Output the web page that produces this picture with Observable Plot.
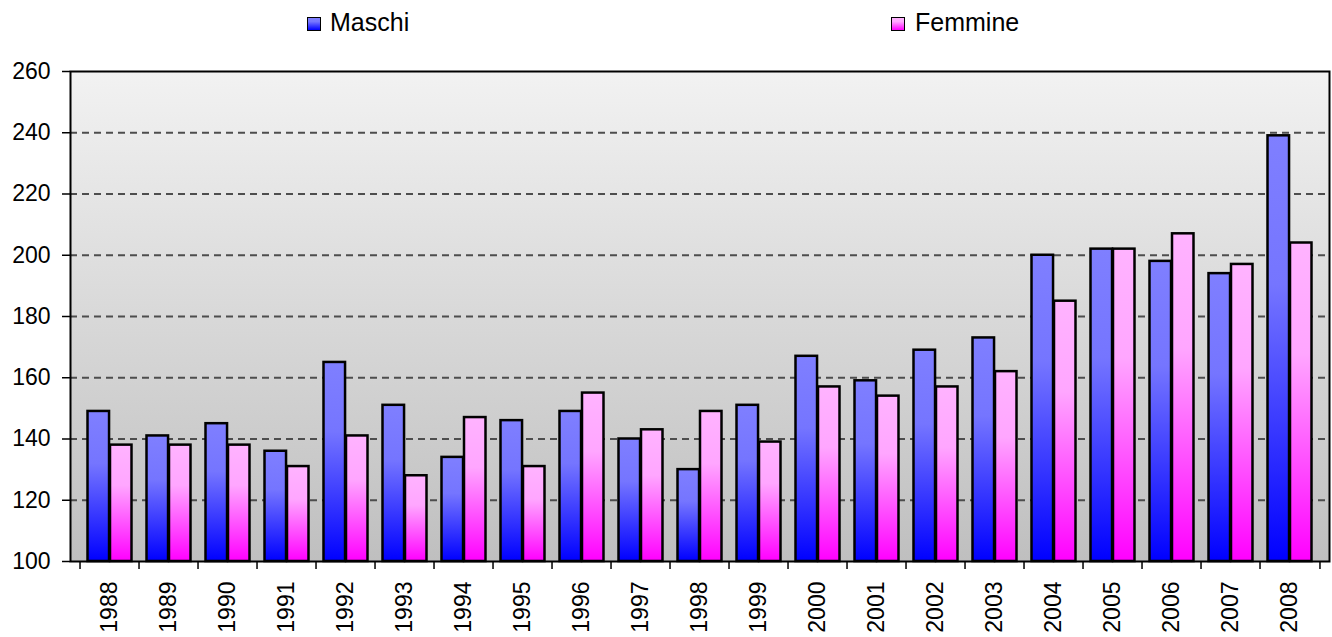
<!DOCTYPE html>
<html><head><meta charset="utf-8">
<script src="https://cdn.jsdelivr.net/npm/d3@7"></script>
<script src="https://cdn.jsdelivr.net/npm/@observablehq/plot@0.6"></script>
<style>
html,body{margin:0;padding:0;background:#fff;overflow:hidden;font-family:"Liberation Sans",Arial,sans-serif;}
#legend{position:relative;height:45px;width:1332px;font-size:25px;color:#000;}
.sw{position:absolute;top:17px;width:12px;height:12px;border:1px solid #000;}
.lt{position:absolute;top:10px;line-height:1;}
#chart svg{display:block;}
</style></head>
<body>
<div id="legend">
  <div class="sw" style="left:307px;background:linear-gradient(#7f7fff,#7777ff 30%,#0000ff);"></div>
  <div class="lt" style="left:330px;">Maschi</div>
  <div class="sw" style="left:891px;background:linear-gradient(#ffb3ff,#ffa8ff 30%,#ff00ff);"></div>
  <div class="lt" style="left:915px;">Femmine</div>
</div>
<div id="chart"></div>
<script>
const years = ["1988","1989","1990","1991","1992","1993","1994","1995","1996","1997","1998","1999","2000","2001","2002","2003","2004","2005","2006","2007","2008"];
const maschi = [149,141,145,136,165,151,134,146,149,140,130,151,167,159,169,173,200,202,198,194,239];
const femmine = [138,138,138,131,141,128,147,131,155,143,149,139,157,154,157,162,185,202,207,197,204];
const yTicks = [100,120,140,160,180,200,220,240,260];
const gridTicks = [120,140,160,180,200,220,240];
const baseline = 100;

const rows = years.map((anno, i) => ({anno, maschi: maschi[i], femmine: femmine[i]}));

const W = 1332, mL = 70, mR = 3;
const bw = (W - mL - mR) / years.length;
const FS = 23;

function defs() {
  const d = d3.create("svg:defs");
  const bg = d.append("linearGradient").attr("id","gBg").attr("x1",0).attr("y1",0).attr("x2",0).attr("y2",1);
  bg.append("stop").attr("offset","0%").attr("stop-color","#f2f2f2");
  bg.append("stop").attr("offset","100%").attr("stop-color","#bfbfbf");
  const m = d.append("linearGradient").attr("id","gM").attr("x1",0).attr("y1",0).attr("x2",0).attr("y2",1);
  m.append("stop").attr("offset","0%").attr("stop-color","#7f7fff");
  m.append("stop").attr("offset","35%").attr("stop-color","#7575ff");
  m.append("stop").attr("offset","100%").attr("stop-color","#0000ff");
  const f = d.append("linearGradient").attr("id","gF").attr("x1",0).attr("y1",0).attr("x2",0).attr("y2",1);
  f.append("stop").attr("offset","0%").attr("stop-color","#ffb3ff");
  f.append("stop").attr("offset","35%").attr("stop-color","#ffa6ff");
  f.append("stop").attr("offset","100%").attr("stop-color","#ff00ff");
  return d.node();
}

const chart = Plot.plot({
  width: W,
  height: 592,
  marginTop: 26,
  marginBottom: 76,
  marginLeft: mL,
  marginRight: mR,
  style: {fontSize: FS + "px", fontFamily: "'Liberation Sans', Arial, sans-serif", color: "#000", background: "#fff"},
  x: {type: "band", domain: years, padding: 0},
  y: {domain: [100, 260]},
  marks: [
    defs,
    Plot.frame({fill: "url(#gBg)", stroke: null}),
    Plot.ruleY(gridTicks, {stroke: "#4d4d4d", strokeWidth: 1.8, strokeDasharray: "7,5"}),
    Plot.barY(rows, {x: "anno", y1: baseline, y2: "maschi", fill: "url(#gM)", stroke: "#000", strokeWidth: 2.5, insetLeft: 7.5, insetRight: bw - 30}),
    Plot.barY(rows, {x: "anno", y1: baseline, y2: "femmine", fill: "url(#gF)", stroke: "#000", strokeWidth: 2.5, insetLeft: 30, insetRight: 7.5}),
    Plot.frame({stroke: "#000", strokeWidth: 2}),
    Plot.axisY({ticks: yTicks, tickSize: 8, tickPadding: 12, label: null, stroke: "#000", strokeWidth: 1.5, fontSize: FS}),
    Plot.axisX({ticks: years, tickSize: 8, tickFormat: () => "", dx: -bw / 2, label: null, stroke: "#000", strokeWidth: 1.5}),
    Plot.axisX({ticks: [years[years.length - 1]], tickSize: 8, tickFormat: () => "", dx: bw / 2, label: null, stroke: "#000", strokeWidth: 1.5}),
    Plot.axisX({ticks: years, tickSize: 0, tickPadding: 20, tickRotate: -90, label: null, fontSize: FS})
  ]
});
document.getElementById("chart").appendChild(chart);
</script>
</body></html>
